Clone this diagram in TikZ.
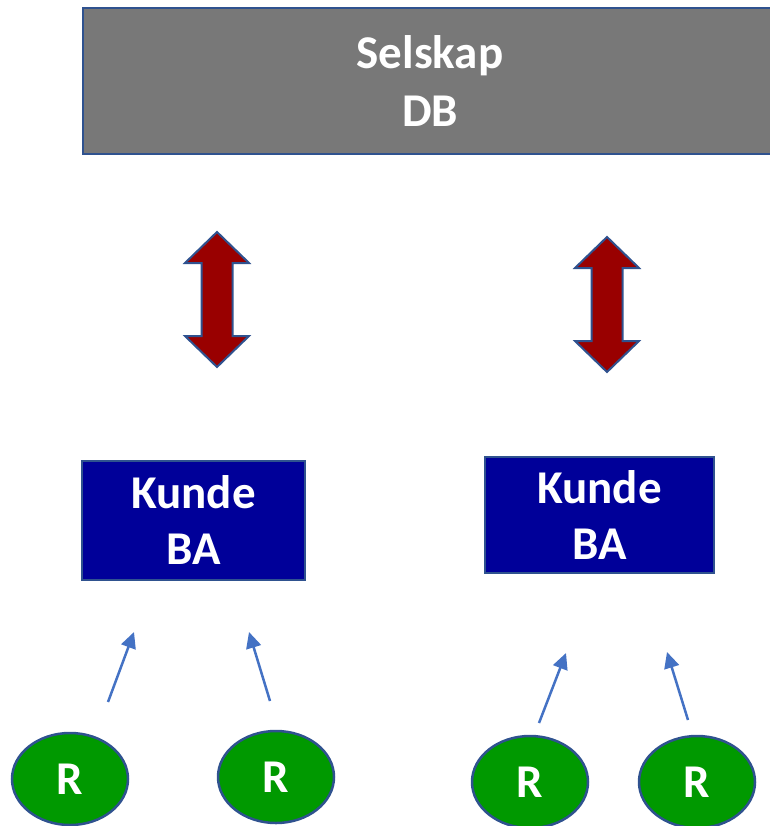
\documentclass[tikz,border=0pt]{standalone}
\usepackage{fontspec}
\setmainfont{Carlito}
\usetikzlibrary{arrows.meta,shapes.geometric}
\definecolor{bordblue}{HTML}{2F528F}
\definecolor{dbgray}{HTML}{787878}
\definecolor{kundeblue}{HTML}{000099}
\definecolor{arrred}{HTML}{990000}
\definecolor{rgreen}{HTML}{009900}
\definecolor{linkblue}{HTML}{4472C4}
\tikzset{
  dbbox/.style={draw=bordblue, line width=2pt, fill=dbgray, text=white, align=center,
    font=\fontsize{47}{58}\selectfont\bfseries, inner sep=0pt, anchor=north west},
  kundebox/.style={draw=bordblue, line width=2pt, fill=kundeblue, text=white, align=center,
    font=\fontsize{47}{56}\selectfont\bfseries, inner sep=0pt},
  rnode/.style={ellipse, draw=bordblue, line width=2.5pt, fill=rgreen, text=white,
    font=\fontsize{47}{56}\selectfont\bfseries, inner sep=0pt, minimum width=116pt, minimum height=92pt},
  dblarrow/.style={draw=bordblue, line width=2pt, fill=arrred, line join=miter},
  link/.style={draw=linkblue, line width=2.5pt, -{Triangle[length=16pt,width=15pt]}}
}
\begin{document}
\begin{tikzpicture}[x=1pt,y=-1pt]
\path[use as bounding box] (0,0) rectangle (769,826);
% top database box
\node[dbbox, minimum width=694pt, minimum height=146pt] (db) at (82,7) {Selskap\\DB};
% customer boxes
\node[kundebox, minimum width=223pt, minimum height=119pt] (k1) at (193.5,520.5) {Kunde\\BA};
\node[kundebox, minimum width=229pt, minimum height=116pt] (k2) at (599.5,515) {Kunde\\BA};
% double arrows
\draw[dblarrow] (217,232) -- (249,263) -- (232.5,263) -- (232.5,336) -- (249,336) -- (217,367)
  -- (185,336) -- (201.5,336) -- (201.5,263) -- (185,263) -- cycle;
\draw[dblarrow] (607,237) -- (639,268) -- (622.5,268) -- (622.5,341) -- (639,341) -- (607,372)
  -- (575,341) -- (591.5,341) -- (591.5,268) -- (575,268) -- cycle;
% R nodes
\node[rnode] (r1) at (70,779) {R};
\node[rnode] (r2) at (276,777) {R};
\node[rnode] (r3) at (530,782) {R};
\node[rnode] (r4) at (697,782) {R};
% arrow end points
\coordinate (a1s) at (108,702);
\coordinate (a1e) at (134,632);
\coordinate (a2s) at (270,701);
\coordinate (a2e) at (249,632);
\coordinate (a3s) at (539,723);
\coordinate (a3e) at (566,653);
\coordinate (a4s) at (688,720);
\coordinate (a4e) at (667,652);
\draw[link] (a1s) -- (a1e);
\draw[link] (a2s) -- (a2e);
\draw[link] (a3s) -- (a3e);
\draw[link] (a4s) -- (a4e);
\end{tikzpicture}
\end{document}
